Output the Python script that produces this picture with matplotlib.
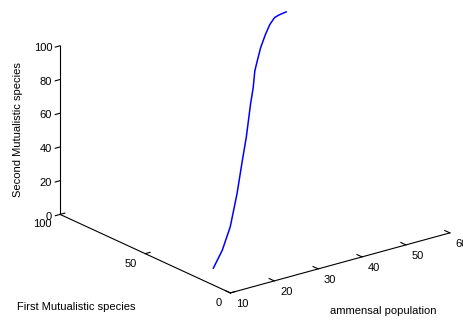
import matplotlib
matplotlib.use('Agg')
import matplotlib.pyplot as plt

plt.rcParams['font.family'] = ['Liberation Sans', 'DejaVu Sans']

# trayectoria
ammensal = [10.0, 14.1, 18.7, 24.4, 29.8, 33.6, 38.8, 41.5, 44.0, 45.8, 48.2,
            50.9, 53.0, 54.8, 56.0, 57.8]
first_mut = [10.0, 15.3, 22.5, 33.2, 44.0, 51.5, 62.4, 67.8, 73.3, 76.5, 80.7,
             84.8, 87.7, 89.6, 90.1, 90.5]
second_mut = [10.0, 15.3, 22.5, 33.2, 44.0, 51.5, 62.4, 67.8, 73.3, 76.5, 80.7,
              84.8, 87.7, 89.6, 90.1, 90.5]

x_ticks = [10, 20, 30, 40, 50, 60]
y_ticks = [0, 50, 100]
z_ticks = [0, 20, 40, 60, 80, 100]

fig = plt.figure(figsize=(4.64, 3.2), dpi=100)
cx, cy = 249.3 / 464, 1 - 145.0 / 320
side_w, side_h = 420 / 464, 420 / 320
ax = fig.add_axes([cx - side_w / 2, cy - side_h / 2, side_w, side_h], projection='3d')
ax.set_proj_type('ortho')
ax.view_init(elev=20.8, azim=-127.6)
ax.set_box_aspect((278, 280, 181))
ax.set_xlim(10, 60)
ax.set_ylim(0, 100)
ax.set_zlim(0, 100)
ax.set_axis_off()

# ejes estilo matlab
k = dict(color='black', lw=0.8)
ax.plot([10, 60], [0, 0], [0, 0], **k)
ax.plot([10, 10], [0, 100], [0, 0], **k)
ax.plot([10, 10], [100, 100], [0, 100], **k)

for v in x_ticks:
    ax.plot([v, v], [0, 3], [0, 0], **k)
    ax.text(v, -7, -3.2, str(v), ha='center', va='center', fontsize=8)
for v in y_ticks:
    ax.plot([10, 11.1], [v, v], [0, 0], **k)
    ax.text(8, v, -4.5, str(v), ha='right', va='center', fontsize=8)
for v in z_ticks:
    ax.plot([10, 8.9], [100, 100], [v, v], **k)
    ax.text(8.2, 100, v, str(v), ha='right', va='center', fontsize=8)

# curva
ax.plot(ammensal, first_mut, second_mut, color='blue', lw=1.1)

fig.text(18 / 464, 1 - 130 / 320, 'Second Mutualistic species', rotation=90,
         ha='center', va='center', fontsize=8)
fig.text(76 / 464, 1 - 307 / 320, 'First Mutualistic species', ha='center', va='center', fontsize=8)
fig.text(383 / 464, 1 - 311 / 320, 'ammensal population', ha='center', va='center', fontsize=8)

fig.savefig('out.png', dpi=100)
